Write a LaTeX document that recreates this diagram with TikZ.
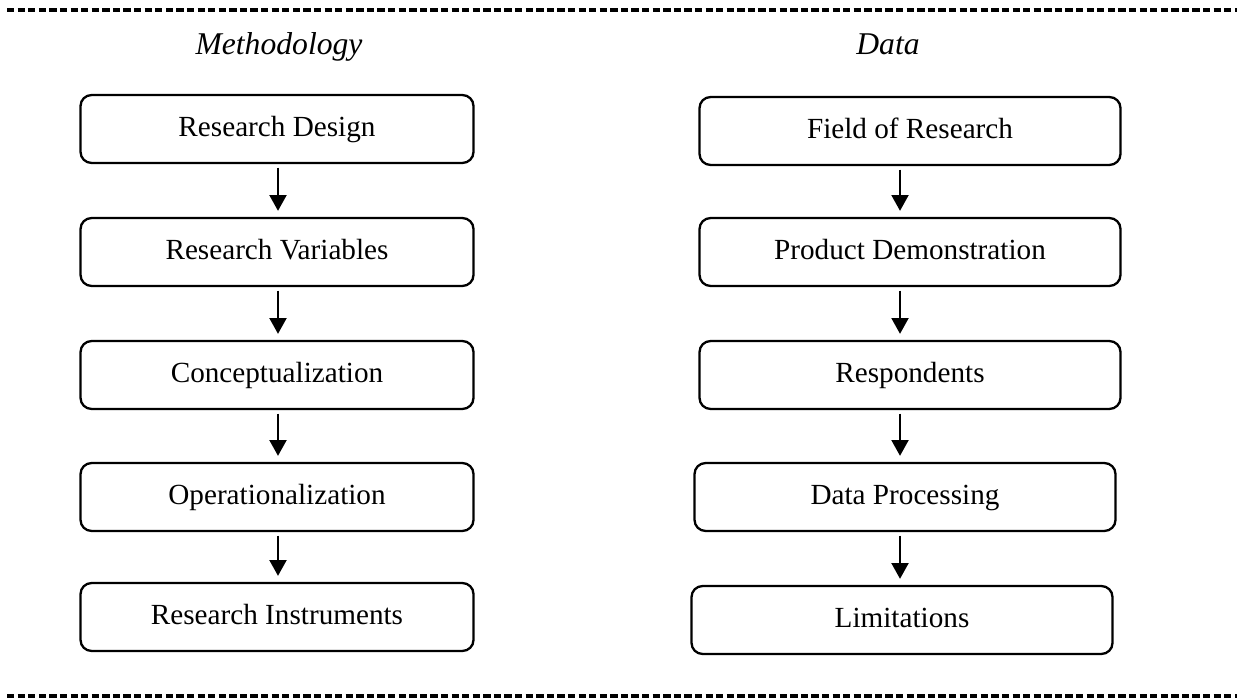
\documentclass[tikz,border=0pt]{standalone}
\usepackage{fontspec}
\setmainfont{Liberation Serif}
\usepackage{tikz}
\usetikzlibrary{arrows.meta}
\usetikzlibrary{calc}

\begin{document}
\begin{tikzpicture}[
    x=0.411pt, y=-0.411pt,
    box_node/.style={draw, line width=0.95pt, rounded corners=4.5pt, inner sep=0pt, minimum height=27.9pt, text height=8pt, text depth=2.2pt, font=\fontsize{12}{14}\selectfont},
    left_node/.style={box_node, minimum width=161.5pt},
    right_node/.style={box_node, minimum width=173pt},
    title_node/.style={anchor=base, font=\fontsize{13}{15}\selectfont\itshape},
    flow_arrow/.style={draw, -{Triangle[width=7pt,length=6.5pt]}, line width=0.85pt, shorten <=1.5pt, shorten >=2.5pt},
    dash_line/.style={line width=1.4pt, dash pattern=on 3pt off 1.35pt}
]
\useasboundingbox (0,0) rectangle (1237,698);

% dashed rules at top and bottom
\coordinate (tl) at (7,10);
\coordinate (tr) at (1237,10);
\coordinate (bl) at (7,696);
\coordinate (br) at (1237,696);
\draw[dash_line] (tl) -- (tr);
\draw[dash_line] (bl) -- (br);

% column titles
\node[title_node] (meth) at (279,55) {Methodology};
\node[title_node] (data) at (888,55) {Data};

% left column
\node[left_node] (rd) at (277,129) {Research Design};
\node[left_node] (rv) at (277,252) {Research Variables};
\node[left_node] (co) at (277,375) {Conceptualization};
\node[left_node] (op) at (277,497) {Operationalization};
\node[left_node] (ri) at (277,617) {Research Instruments};

% right column
\node[right_node] (fr) at (910,131) {Field of Research};
\node[right_node] (pd) at (910,252) {Product Demonstration};
\node[right_node] (re) at (910,375) {Respondents};
\node[right_node] (dp) at (905,497) {Data Processing};
\node[right_node] (li) at (902,620) {Limitations};

% arrow columns
\coordinate (larr) at (278,0);
\coordinate (rarr) at (900,0);

% connect the boxes
\path[every edge/.style={flow_arrow}]
    (rd.south -| larr) edge (rv.north -| larr)
    (rv.south -| larr) edge (co.north -| larr)
    (co.south -| larr) edge (op.north -| larr)
    (op.south -| larr) edge (ri.north -| larr)
    (fr.south -| rarr) edge (pd.north -| rarr)
    (pd.south -| rarr) edge (re.north -| rarr)
    (re.south -| rarr) edge (dp.north -| rarr)
    (dp.south -| rarr) edge (li.north -| rarr);

\end{tikzpicture}
\end{document}
